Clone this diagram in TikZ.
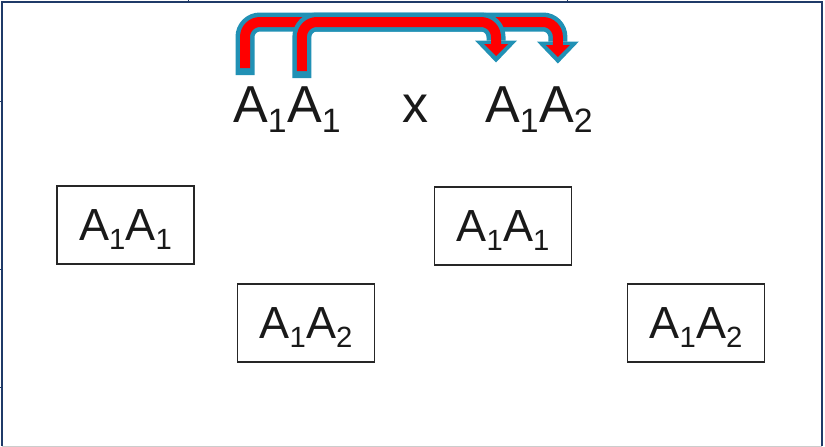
\documentclass[tikz,border=0pt]{standalone}
\usepackage{fontspec}
\setmainfont{Liberation Sans}
\usetikzlibrary{arrows.meta, positioning}

\definecolor{arrowblue}{HTML}{2191B5}
\definecolor{framenavy}{HTML}{1F3A68}
\newcommand{\low}[1]{\raisebox{-0.21em}{\scalebox{0.65}{#1}}}

\begin{document}
\begin{tikzpicture}[x=1pt, y=-1pt,
    allele/.style={inner sep=0pt, anchor=base west, text=black!90, font=\fontsize{52}{60}\selectfont},
    genobox/.style={draw=black!85, line width=1.4pt, minimum width=137pt, minimum height=78pt,
        inner sep=0pt, text height=40pt, text depth=10pt, text=black!90, font=\fontsize{45}{54}\selectfont},
    flowout/.style={draw=arrowblue, line width=19pt, rounded corners=15pt,
        -{Triangle[width=42pt, length=22pt, line width=0pt]}},
    flowin/.style={draw=red, line width=10pt, rounded corners=15pt,
        -{Triangle[width=24pt, length=12pt, line width=0pt]}}]
    \useasboundingbox (0,0) rectangle (825,447);

    % slide frame
    \draw[framenavy, line width=1.5pt] (2,446) -- (2,2) -- (822,2) -- (822,446);
    \draw[black!20, line width=1pt] (2,446) -- (822,446);
    \foreach \ty in {101,269,387} \draw[framenavy, line width=1pt] (0,\ty) -- (3,\ty);
    \foreach \tx in {188,567} \draw[framenavy, line width=1pt] (\tx,0) -- (\tx,2);

    % parents
    \node[allele] (m1) at (233,122) {A\low{1}};
    \node[allele] (m2) at (m1.base east) {A\low{1}};
    \node[allele, anchor=base] (cross) at (415,122) {x};
    \node[allele] (f1) at (485,122) {A\low{1}};
    \node[allele] (f2) at (f1.base east) {A\low{2}};

    % offspring
    \node[genobox] (o1) at (125.5,225) {A\low{1}A\low{1}};
    \node[genobox] (o2) at (306,323) {A\low{1}A\low{2}};
    \node[genobox] (o3) at (503,226) {A\low{1}A\low{1}};
    \node[genobox] (o4) at (696,323) {A\low{1}A\low{2}};

    % allele arrows
    \coordinate (s1) at ([shift={(12,-54)}]m1.base west);
    \coordinate (s2) at ([shift={(15,-51)}]m2.base west);
    \coordinate (e1) at ([shift={(11,-61)}]f1.base west);
    \coordinate (e2) at ([shift={(19,-60)}]f2.base west);
    \coordinate (bend) at (0,22);
    \draw[flowout] ([yshift=-7pt]s1) -- (s1 |- bend) -- (e2 |- bend) -- ([yshift=-1.5pt]e2);
    \draw[flowin] (s1) -- (s1 |- bend) -- (e2 |- bend) -- ([yshift=5pt]e2);
    \draw[flowout] ([yshift=-7pt]s2) -- (s2 |- bend) -- (e1 |- bend) -- ([yshift=-1.5pt]e1);
    \draw[flowin] (s2) -- (s2 |- bend) -- (e1 |- bend) -- ([yshift=5pt]e1);
\end{tikzpicture}
\end{document}
